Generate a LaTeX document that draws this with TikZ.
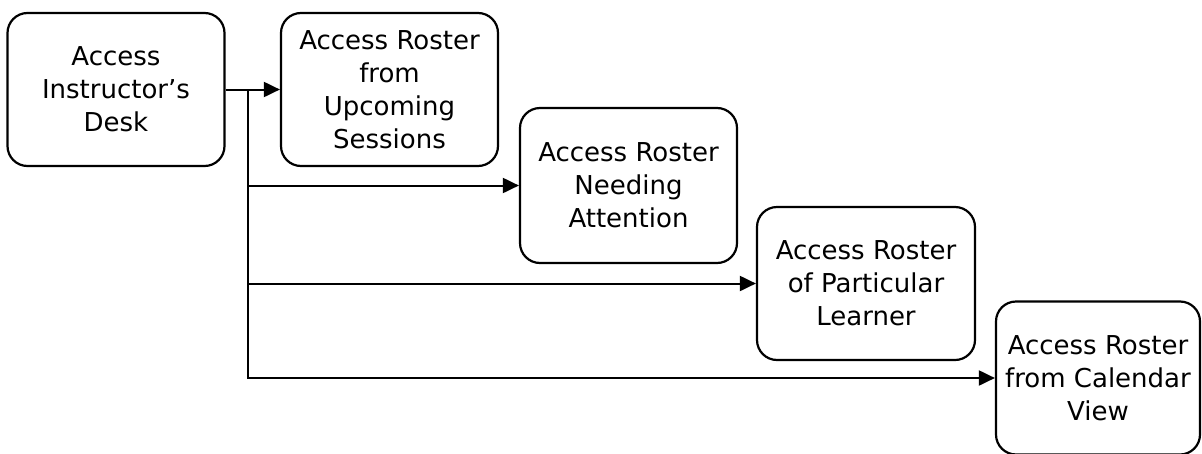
\documentclass[tikz,border=0pt]{standalone}
\usepackage{fontspec}
\setmainfont{DejaVu Sans}
\usetikzlibrary{arrows.meta}
\begin{document}
\begin{tikzpicture}[x=1pt,y=-1pt,
  box/.style={draw, line width=2.2pt, rounded corners=20pt, minimum width=217pt, minimum height=153pt, align=center, inner sep=0pt,
    font=\fontsize{26}{33}\selectfont},
  conn/.style={line width=2pt, -{Triangle[length=16pt,width=15pt]}}]
\useasboundingbox (0,0) rectangle (1202,453);
\node[box] (b1) at (116,89.5) {Access\\Instructor’s\\Desk};
\node[box] (b2) at (389.5,89.5) {Access Roster\\from\\Upcoming\\Sessions};
\node[box, minimum height=155pt] (b3) at (628.5,185.5) {Access Roster\\Needing\\Attention};
\node[box, minimum width=218pt] (b4) at (866,283.5) {Access Roster\\of Particular\\Learner};
\node[box, minimum width=204pt] (b5) at (1098,378) {Access Roster\\from Calendar\\View};
\coordinate (j) at (248,89.5);
\draw[conn] (b1.east) -- (b2.west);
\draw[line width=2pt] (j) -- (248,378);
\draw[conn] (j) |- (b3.west);
\draw[conn] (j) |- (b4.west);
\draw[conn] (j) |- (b5.west);
\end{tikzpicture}
\end{document}
